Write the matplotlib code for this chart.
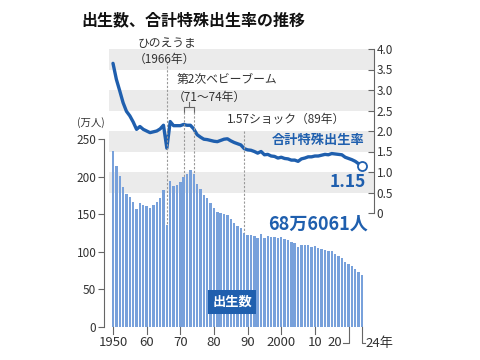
import numpy as np
import matplotlib
matplotlib.use("Agg")
import matplotlib.pyplot as plt

plt.rcParams["font.family"] = ["Noto Sans CJK JP", "DejaVu Sans"]

# ---- data ----
years = list(range(1950, 2025))
births = [233.8, 213.8, 200.5, 186.8, 177.0, 173.1, 166.5, 156.7, 165.3, 162.6,
          160.6, 158.9, 161.9, 166.0, 171.7, 182.4, 136.1, 193.6, 187.2, 188.9,
          193.4, 200.1, 203.9, 209.2, 203.0, 190.1, 183.3, 175.5, 170.9, 164.3,
          157.7, 152.9, 151.5, 150.9, 149.0, 143.2, 138.3, 134.7, 131.4, 124.7,
          122.2, 122.3, 120.9, 118.8, 123.8, 118.7, 120.7, 119.2, 120.3, 117.8,
          119.1, 117.1, 115.4, 112.4, 111.1, 106.3, 109.3, 109.0, 109.1, 107.0,
          107.1, 105.1, 103.7, 103.0, 100.4, 100.6, 97.7, 94.6, 91.8, 86.5,
          84.1, 81.2, 77.1, 72.7, 68.6]
tfr = [3.65, 3.26, 2.98, 2.69, 2.48, 2.37, 2.22, 2.04, 2.11, 2.04,
       2.00, 1.96, 1.98, 2.00, 2.05, 2.14, 1.58, 2.23, 2.13, 2.13,
       2.13, 2.16, 2.14, 2.14, 2.05, 1.91, 1.85, 1.80, 1.79, 1.77,
       1.75, 1.74, 1.77, 1.80, 1.81, 1.76, 1.72, 1.69, 1.66, 1.57,
       1.54, 1.53, 1.50, 1.46, 1.50, 1.42, 1.43, 1.39, 1.38, 1.34,
       1.36, 1.33, 1.32, 1.29, 1.29, 1.26, 1.32, 1.34, 1.37, 1.37,
       1.39, 1.39, 1.41, 1.43, 1.42, 1.45, 1.44, 1.43, 1.42, 1.36,
       1.33, 1.30, 1.26, 1.20, 1.15]
left_ticks = [0, 50, 100, 150, 200, 250]
right_ticks = [0, 0.5, 1.0, 1.5, 2.0, 2.5, 3.0, 3.5, 4.0]
right_labels = ["0", "0.5", "1.0", "1.5", "2.0", "2.5", "3.0", "3.5", "4.0"]
x_ticks = [1950, 1960, 1970, 1980, 1990, 2000, 2010]
x_labels = ["1950", "60", "70", "80", "90", "2000", "10"]
bands = [(0.5, 1.0), (1.5, 2.0), (2.5, 3.0), (3.5, 4.0)]

BLUE = "#1f5fae"; BAR = "#78a1db"; GRID = "#ebebeb"; TXT = "#333333"; AX = "#666666"
W, H = 480, 360

def fx(px): return px / W
def fy(py): return 1 - py / H

fig = plt.figure(figsize=(4.8, 3.6), dpi=100)
fig.patch.set_facecolor("white")
ax_r = fig.add_axes([fx(104), fy(327), 270 / W, 278 / H])
ax_l = ax_r.twinx()
ax_r.set_zorder(1); ax_l.set_zorder(2)
ax_l.yaxis.tick_left(); ax_r.yaxis.tick_right()

xmin = 1950 - 9 / 3.365
ax_r.set_xlim(xmin, xmin + 270 / 3.365)
ax_r.set_ylim(-114 / 41, 4.0)
ax_l.set_ylim(0, 278 / 0.752)

# bands + TFR line (behind bars)
for lo, hi in bands:
    ax_r.axhspan(lo, hi, xmin=0.02, xmax=1, color=GRID, lw=0, zorder=0)
ax_r.plot(years, tfr, color=BLUE, lw=2.4, solid_capstyle="round", zorder=3)
ax_r.plot(years[-1], tfr[-1], "o", ms=6.5, mfc="white", mec=BLUE, mew=1.3, zorder=4)

# bars
ax_l.bar(years, births, width=0.72, color=BAR, lw=0, zorder=2)

for a in (ax_l, ax_r):
    a.patch.set_visible(False)
    for s in ("top", "bottom"):
        a.spines[s].set_visible(False)
    a.set_xticks([])
ax_l.spines["right"].set_visible(False); ax_r.spines["left"].set_visible(False)
ax_l.spines["left"].set_bounds(0, 250); ax_l.spines["left"].set_color(AX)
ax_r.spines["right"].set_bounds(0, 4.0); ax_r.spines["right"].set_color(AX)
ax_l.set_yticks(left_ticks)
ax_l.tick_params(axis="y", direction="out", length=4, width=0.8, color=AX,
                 labelsize=8.5, labelcolor=TXT, pad=1.5)
ax_r.set_yticks(right_ticks); ax_r.set_yticklabels(right_labels)
ax_r.tick_params(axis="y", direction="in", length=4, width=0.8, color=AX,
                 labelsize=8.5, labelcolor=TXT, pad=2)

# bottom ticks
def to_left(x, r):
    p = ax_r.transData.transform((x, r))
    return ax_l.transData.inverted().transform(p)[1]

for xt, lab in zip(x_ticks, x_labels):
    ax_l.plot([xt, xt], [0, -7 / 0.752], color=AX, lw=0.8, clip_on=False)
    ax_l.text(xt, -16 / 0.752, lab, ha="center", va="center", fontsize=9.5, color=TXT)
ax_l.plot([2020, 2020, 2018.3], [0, -16 / 0.752, -16 / 0.752], color=AX, lw=0.8, clip_on=False)
ax_l.text(2018.0, -16 / 0.752, "20", ha="right", va="center", fontsize=9.5, color=TXT)
ax_l.plot([2024, 2024, 2024.8], [0, -16 / 0.752, -16 / 0.752], color=AX, lw=0.8, clip_on=False)
ax_l.text(2025.1, -16 / 0.752, "24年", ha="left", va="center", fontsize=9.5, color=TXT)

# event guide lines
b = dict(zip(years, births))
dash = dict(color="#999999", lw=0.8, ls=(0, (2, 1.5)), clip_on=False, zorder=5)
ax_l.plot([1966, 1966], [to_left(1966, 3.68), b[1966]], **dash)
for yr in (1971, 1974):
    ax_l.plot([yr, yr], [to_left(yr, 2.46), b[yr]], **dash)
    ax_l.plot([yr, yr], [to_left(yr, 2.58), to_left(yr, 2.46)], color=AX, lw=0.8, clip_on=False)
ax_l.plot([1971, 1974], [to_left(1971, 2.58)] * 2, color=AX, lw=0.8, clip_on=False)
ax_l.plot([1972.5, 1972.5], [to_left(1972.5, 2.58), to_left(1972.5, 2.70)], color=AX, lw=0.8, clip_on=False)
ax_l.plot([1989, 1989], [to_left(1989, 2.0), b[1989]], **dash)

# texts
fig.text(fx(81), fy(20), "出生数、合計特殊出生率の推移", fontsize=11.5, fontweight="bold",
         color="#111111", va="center", ha="left")
fig.text(fx(138), fy(43), "ひのえうま", fontsize=8.5, color=TXT, va="center", ha="left")
fig.text(fx(134), fy(59), "（1966年）", fontsize=8.5, color=TXT, va="center", ha="left")
fig.text(fx(177), fy(80), "第2次ベビーブーム", fontsize=8.5, color=TXT, va="center", ha="left")
fig.text(fx(173), fy(97), "（71～74年）", fontsize=8.5, color=TXT, va="center", ha="left")
fig.text(fx(227), fy(119), "1.57ショック（89年）", fontsize=8.5, color=TXT, va="center", ha="left")
fig.text(fx(77), fy(123), "(万人)", fontsize=7.5, color=TXT, va="center", ha="left")
fig.text(fx(364), fy(140), "合計特殊出生率", fontsize=9.5, fontweight="bold", color=BLUE,
         va="center", ha="right")
fig.text(fx(366), fy(182), "1.15", fontsize=12.5, fontweight="bold", color=BLUE,
         va="center", ha="right")
fig.text(fx(368), fy(224), "68万6061人", fontsize=13, fontweight="bold", color=BLUE,
         va="center", ha="right")
fig.text(fx(232), fy(302), "出生数", fontsize=9.5, fontweight="bold", color="white",
         va="center", ha="center",
         bbox=dict(boxstyle="square,pad=0.35", fc=BLUE, ec="none"))

fig.savefig("out.png", dpi=100)
